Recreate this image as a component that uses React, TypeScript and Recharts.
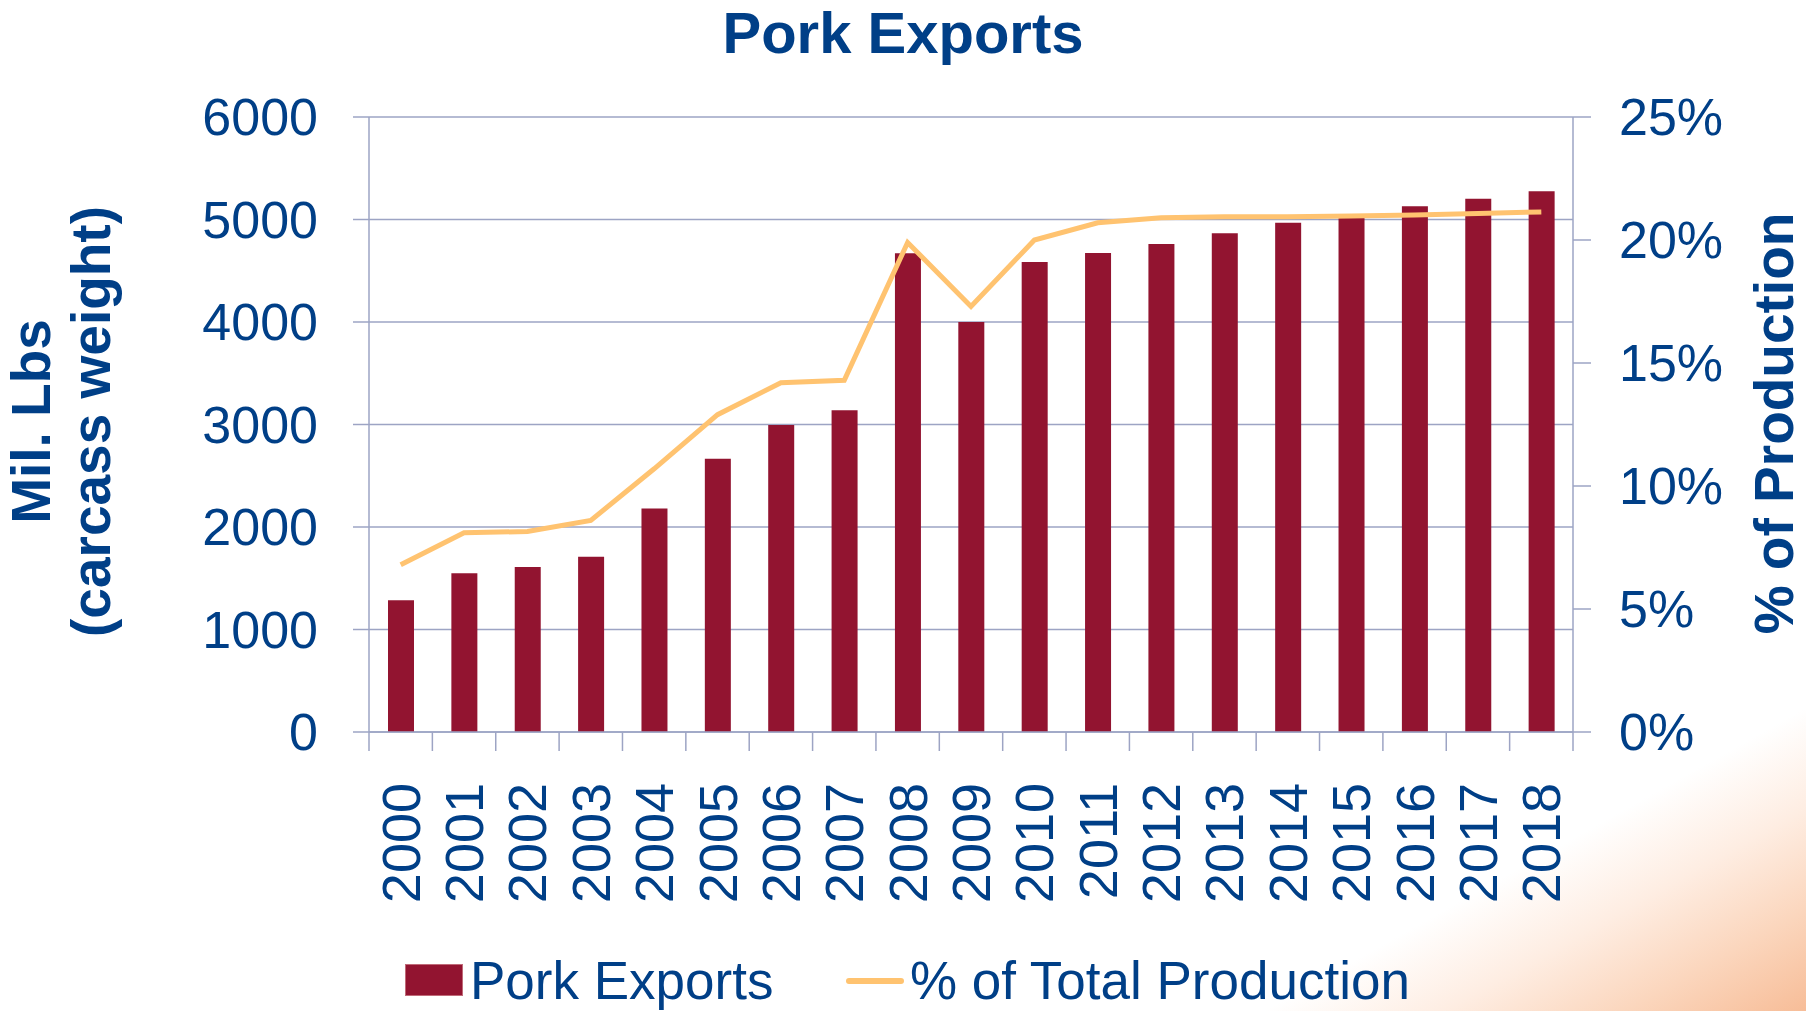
import React from 'react';
import {
  ComposedChart,
  Bar,
  Line,
  XAxis,
  YAxis,
  CartesianGrid,
  Legend,
} from 'recharts';

const years = ['2000', '2001', '2002', '2003', '2004', '2005', '2006', '2007', '2008', '2009', '2010', '2011', '2012', '2013', '2014', '2015', '2016', '2017', '2018'];
const porkExports = [1285, 1550, 1610, 1710, 2180, 2665, 2995, 3140, 4670, 4000, 4585, 4673, 4761, 4865, 4969, 5030, 5129, 5203, 5275];
const pctOfProduction = [6.8, 8.1, 8.15, 8.6, 10.7, 12.9, 14.2, 14.3, 19.9, 17.3, 20.0, 20.7, 20.9, 20.95, 20.95, 20.98, 21.02, 21.08, 21.14];
const leftTicks = [0, 1000, 2000, 3000, 4000, 5000, 6000];
const rightTicks = [0, 5, 10, 15, 20, 25];

const data = years.map((year, i) => ({ year, exports: porkExports[i], pct: pctOfProduction[i] }));

const W = 1806;
const H = 1011;
const LEFT_AXIS_W = 369;
const RIGHT_AXIS_W = 233;
const TOP = 117;
const LEGEND_H = 60;
const XAXIS_H = 219;
const BAND = (W - LEFT_AXIS_W - RIGHT_AXIS_W) / years.length;

const BLUE = '#003F87';
const GRID = '#9DA4C4';
const BAR = '#921430';
const LINE = '#FFC370';
const FONT = '"Liberation Sans", Arial, Helvetica, sans-serif';

function XTick(props: any) {
  const { x, y, payload, index } = props;
  const half = BAND / 2;
  return (
    <g>
      <line x1={x - half} x2={x - half} y1={y} y2={y + 19} stroke={GRID} strokeWidth={1.5} />
      {index === years.length - 1 && (
        <line x1={x + half} x2={x + half} y1={y} y2={y + 19} stroke={GRID} strokeWidth={1.5} />
      )}
      <text
        transform={`translate(${x + 19},${y + 51}) rotate(-90)`}
        textAnchor="end"
        fill={BLUE}
        fontSize={54}
        fontFamily={FONT}
      >
        {payload.value}
      </text>
    </g>
  );
}

function LeftTitle(props: any) {
  const vb = props.viewBox || { x: 0, y: TOP, width: LEFT_AXIS_W, height: 615 };
  const cy = vb.y + vb.height / 2 - 3;
  return (
    <g>
      <text transform={`translate(${vb.x + 50},${cy}) rotate(-90)`} textAnchor="middle" fill={BLUE} fontSize={55} fontWeight="bold" fontFamily={FONT}>
        Mil. Lbs
      </text>
      <text transform={`translate(${vb.x + 110},${cy}) rotate(-90)`} textAnchor="middle" fill={BLUE} fontSize={55} fontWeight="bold" fontFamily={FONT}>
        (carcass weight)
      </text>
    </g>
  );
}

function RightTitle(props: any) {
  const vb = props.viewBox || { x: W - RIGHT_AXIS_W, y: TOP, width: RIGHT_AXIS_W, height: 615 };
  const cy = vb.y + vb.height / 2 - 1;
  return (
    <text transform={`translate(${vb.x + 220},${cy}) rotate(-90)`} textAnchor="middle" fill={BLUE} fontSize={55} fontWeight="bold" fontFamily={FONT}>
      % of Production
    </text>
  );
}

function LegendContent() {
  const textStyle: React.CSSProperties = {
    position: 'absolute',
    top: 3,
    fontSize: 53,
    lineHeight: 1,
    fontFamily: FONT,
    color: BLUE,
    whiteSpace: 'nowrap',
  };
  return (
    <div style={{ position: 'relative', width: W, height: LEGEND_H }}>
      <div style={{ position: 'absolute', left: 405, top: 13, width: 58, height: 32, background: BAR, boxSizing: 'border-box', border: '1px solid #C06A78' }} />
      <div style={{ ...textStyle, left: 470 }}>Pork Exports</div>
      <div style={{ position: 'absolute', left: 846, top: 27, width: 58, height: 6, borderRadius: 3, background: LINE }} />
      <div style={{ ...textStyle, left: 910 }}>% of Total Production</div>
    </div>
  );
}

export default function App() {
  return (
    <div
      style={{
        position: 'fixed',
        left: 0,
        top: 0,
        width: W,
        height: H,
        overflow: 'hidden',
        background:
          'linear-gradient(to bottom right, #FFFFFF 0%, #FFFFFF 85%, #FEEDE2 90%, #FBD6BD 95%, #F7BD98 100%)',
      }}
    >
      <div
        style={{
          position: 'absolute',
          left: 0,
          top: 4,
          width: W,
          textAlign: 'center',
          fontFamily: FONT,
          fontWeight: 'bold',
          fontSize: 58,
          lineHeight: 1,
          color: BLUE,
        }}
      >
        Pork Exports
      </div>
      <ComposedChart
        width={W}
        height={H}
        data={data}
        margin={{ top: TOP, right: 0, bottom: 0, left: 0 }}
        style={{ position: 'absolute', left: 0, top: 0 }}
      >
        <CartesianGrid vertical={false} horizontal stroke={GRID} strokeWidth={1.5} yAxisId="left" />
        <XAxis
          dataKey="year"
          height={XAXIS_H}
          interval={0}
          tickSize={0}
          tickMargin={0}
          tickLine={false}
          axisLine={{ stroke: GRID, strokeWidth: 1.5 }}
          tick={<XTick />}
        />
        <YAxis
          yAxisId="left"
          orientation="left"
          width={LEFT_AXIS_W}
          domain={[0, 6000]}
          ticks={leftTicks}
          interval={0}
          tickSize={16}
          tickMargin={35}
          tickLine={{ stroke: GRID, strokeWidth: 1.5 }}
          axisLine={{ stroke: GRID, strokeWidth: 1.5 }}
          tick={{ fill: BLUE, fontSize: 52, fontFamily: FONT }}
          label={<LeftTitle />}
        />
        <YAxis
          yAxisId="right"
          orientation="right"
          width={RIGHT_AXIS_W}
          domain={[0, 25]}
          ticks={rightTicks}
          interval={0}
          tickSize={18}
          tickMargin={28}
          tickFormatter={(v: number) => `${v}%`}
          tickLine={{ stroke: GRID, strokeWidth: 1.5 }}
          axisLine={{ stroke: GRID, strokeWidth: 1.5 }}
          tick={{ fill: BLUE, fontSize: 52, fontFamily: FONT }}
          label={<RightTitle />}
        />
        <Legend verticalAlign="bottom" content={() => <LegendContent />} />
        <Bar yAxisId="left" dataKey="exports" name="Pork Exports" fill={BAR} barSize={26} isAnimationActive={false} />
        <Line
          yAxisId="right"
          dataKey="pct"
          name="% of Total Production"
          type="linear"
          stroke={LINE}
          strokeWidth={5}
          dot={false}
          activeDot={false}
          isAnimationActive={false}
        />
      </ComposedChart>
    </div>
  );
}
